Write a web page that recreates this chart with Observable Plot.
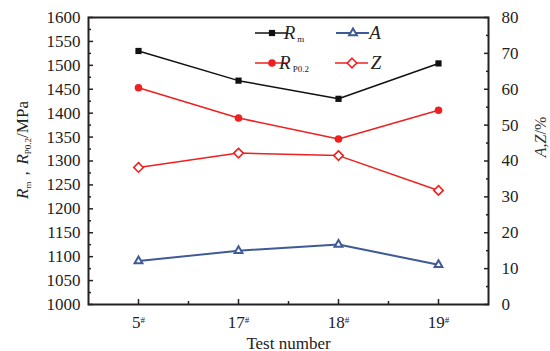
<!DOCTYPE html>
<html><head><meta charset="utf-8">
<script src="https://cdn.jsdelivr.net/npm/d3@7"></script>
<script src="https://cdn.jsdelivr.net/npm/@observablehq/plot@0.6"></script>
<style>
html,body{margin:0;padding:0;background:#fff;}
svg text{font-family:"Liberation Serif",serif;}
</style>
</head><body>
<div id="chart"></div>
<script>
const categories = ["5", "17", "18", "19"];
const rmValues = [1530, 1468, 1430, 1504];
const rpValues = [1453, 1390, 1346, 1406];
const aValues = [12.1, 15.0, 16.7, 11.1];
const zValues = [38.2, 42.2, 41.5, 31.8];
const leftTicks = d3.range(1000, 1601, 50);
const leftMinor = d3.range(1025, 1600, 50);
const rightTicks = d3.range(0, 81, 10);
const rightMinor = d3.range(5, 80, 10);
const xTicks = [1, 2, 3, 4];
const xMinor = [1.5, 2.5, 3.5];

const colors = {rm: "#111111", rp: "#ee2020", a: "#3f5a94", z: "#ee2020"};
// right axis (0..80) mapped onto left axis domain (1000..1600)
const toLeft = v => 1000 + v * 7.5;
const fromLeft = v => (v - 1000) / 7.5;

const mk = vals => vals.map((v, i) => ({x: i + 1, y: v}));
const rm = mk(rmValues), rp = mk(rpValues);
const aa = mk(aValues.map(toLeft)), zz = mk(zValues.map(toLeft));

const FONT = "'Liberation Serif', serif";

const plot = Plot.plot({
  width: 550, height: 351,
  marginTop: 17, marginBottom: 47, marginLeft: 88, marginRight: 62,
  style: {fontFamily: FONT, fontSize: "16px", background: "#fff", color: "#222"},
  x: {type: "linear", domain: [0.5, 4.5], label: null},
  y: {domain: [1000, 1600], label: null},
  marks: [
    Plot.axisY(leftTicks, {anchor: "left", tickSize: -5, tickPadding: 13, strokeWidth: 1.5, fontSize: 17, tickFormat: d => String(d), label: null}),
    Plot.axisY(leftMinor, {anchor: "left", tickSize: -3, tickFormat: () => "", strokeWidth: 1.5, label: null}),
    Plot.axisY(rightTicks.map(toLeft), {anchor: "right", tickSize: -5, tickPadding: 18, strokeWidth: 1.5, fontSize: 17, tickFormat: d => String(Math.round(fromLeft(d))), label: null}),
    Plot.axisY(rightMinor.map(toLeft), {anchor: "right", tickSize: -3, tickFormat: () => "", strokeWidth: 1.5, label: null}),
    Plot.axisX(xTicks, {anchor: "bottom", tickSize: -5, tickPadding: 16, strokeWidth: 1.5, fontSize: 17, tickFormat: d => categories[d - 1] + "#", label: "Test number", labelAnchor: "center", labelOffset: 44, labelArrow: "none"}),
    Plot.axisX(xMinor, {anchor: "bottom", tickSize: -3, tickFormat: () => "", strokeWidth: 1.5, label: null}),
    Plot.frame({stroke: "#222", strokeWidth: 2}),
    Plot.line(rm, {x: "x", y: "y", stroke: colors.rm, strokeWidth: 1.5}),
    Plot.line(rp, {x: "x", y: "y", stroke: colors.rp, strokeWidth: 1.5}),
    Plot.line(aa, {x: "x", y: "y", stroke: colors.a, strokeWidth: 2}),
    Plot.line(zz, {x: "x", y: "y", stroke: colors.z, strokeWidth: 1.5}),
    Plot.dot(rm, {x: "x", y: "y", symbol: "square", r: 3.5, fill: colors.rm}),
    Plot.dot(rp, {x: "x", y: "y", symbol: "circle", r: 3.8, fill: colors.rp}),
    Plot.dot(aa, {x: "x", y: "y", symbol: "triangle", r: 2.9, fill: "#fff", stroke: colors.a, strokeWidth: 2}),
    Plot.dot(zz, {x: "x", y: "y", symbol: "diamond2", r: 4.3, fill: "#fff", stroke: colors.z, strokeWidth: 1.6})
  ]
});
document.getElementById("chart").appendChild(plot);

const svg = d3.select(plot);
// superscript # on x tick labels
svg.selectAll('g[aria-label="x-axis tick label"] text').each(function() {
  const t = d3.select(this);
  const s = t.text();
  if (!s.includes("#")) return;
  t.text(s.replace("#", ""));
  t.append("tspan").attr("dy", "-0.55em").attr("font-size", "9px").text("#");
});

// left axis title
const lt = svg.append("text").attr("transform", "translate(28,150) rotate(-90)")
  .attr("text-anchor", "middle").attr("font-family", FONT).attr("font-size", 17).attr("fill", "#222");
lt.append("tspan").attr("font-style", "italic").text("R");
lt.append("tspan").attr("font-size", 9).attr("dy", 3).text("m");
lt.append("tspan").attr("dy", -3).text("，");
lt.append("tspan").attr("font-style", "italic").text("R");
lt.append("tspan").attr("font-size", 9).attr("dy", 3).text("P0.2");
lt.append("tspan").attr("dy", -3).text("/MPa");

// right axis title
const rt = svg.append("text").attr("transform", "translate(546,137) rotate(-90)")
  .attr("text-anchor", "middle").attr("font-family", FONT).attr("font-size", 16).attr("fill", "#333");
rt.append("tspan").attr("font-style", "italic").text("A");
rt.append("tspan").text(",");
rt.append("tspan").attr("font-style", "italic").text("Z");
rt.append("tspan").text("/%");

// legend
const legendItems = [
  {x: 255, y: 33, color: colors.rm, sym: d3.symbolSquare, r: 3.5, fill: colors.rm, sw: 1.5, label: "R", sub: "m", tx: 294},
  {x: 336, y: 33, color: colors.a, sym: d3.symbolTriangle, r: 2.9, fill: "#fff", sw: 2, label: "A", sub: "", tx: 375},
  {x: 255, y: 63, color: colors.rp, sym: d3.symbolCircle, r: 3.8, fill: colors.rp, sw: 1.5, label: "R", sub: "P0.2", tx: 294},
  {x: 335, y: 63, color: colors.z, sym: d3.symbolDiamond2, r: 4.3, fill: "#fff", sw: 1.6, label: "Z", sub: "", tx: 376}
];
const lg = svg.append("g").attr("aria-label", "legend");
legendItems.forEach(it => {
  lg.append("line").attr("x1", it.x).attr("x2", it.x + 33).attr("y1", it.y).attr("y2", it.y)
    .attr("stroke", it.color).attr("stroke-width", it.sw === 2 ? 2 : 1.6);
  lg.append("path").attr("transform", `translate(${it.x + 17},${it.y})`)
    .attr("d", d3.symbol(it.sym, Math.PI * it.r * it.r)())
    .attr("fill", it.fill).attr("stroke", it.fill === "#fff" ? it.color : "none").attr("stroke-width", it.sw);
  const t = lg.append("text").attr("x", it.tx).attr("y", it.y + 6).attr("font-family", FONT)
    .attr("font-size", 19).attr("fill", "#222");
  t.append("tspan").attr("font-style", "italic").text(it.label);
  if (it.sub) t.append("tspan").attr("font-size", 9).attr("dy", 3).attr("dx", 2).text(it.sub);
});
</script>
</body></html>
